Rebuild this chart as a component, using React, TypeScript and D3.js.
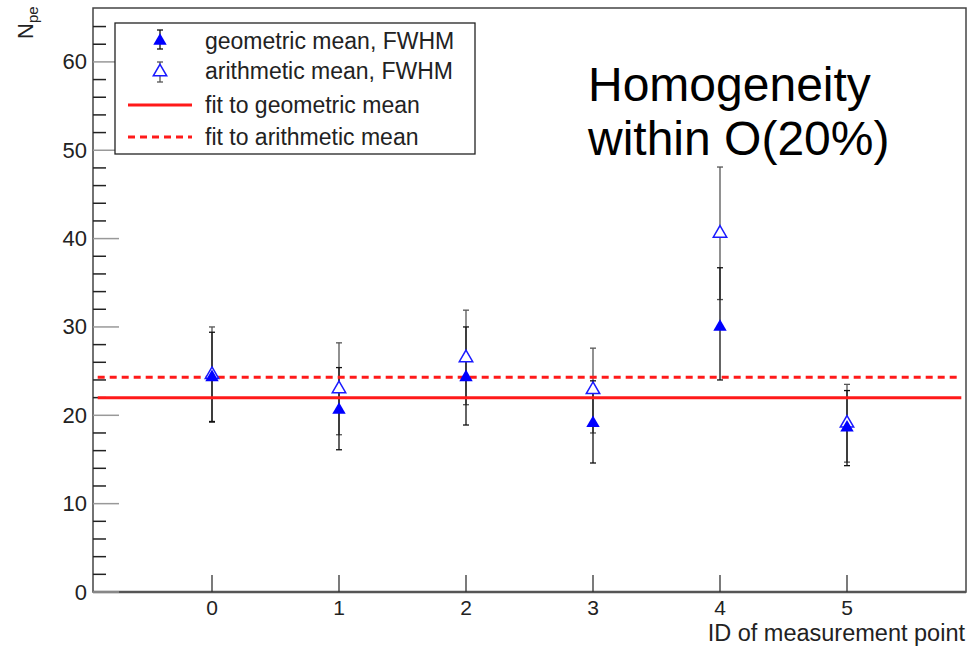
import React from 'react'
import * as d3 from 'd3'

// measurement points and the two estimates (value, lower / upper end of FWHM band)
const pointIds = [0, 1, 2, 3, 4, 5]

const geoMean = [24.3, 20.6, 24.3, 19.1, 30.0, 18.6]
const geoLow = [19.3, 16.1, 18.9, 14.6, 24.0, 14.3]
const geoHigh = [29.4, 25.4, 30.0, 23.9, 36.7, 22.8]

const ariMean = [24.6, 23.0, 26.5, 22.9, 40.6, 19.1]
const ariLow = [19.2, 17.8, 21.2, 18.0, 33.1, 14.7]
const ariHigh = [30.0, 28.2, 31.9, 27.6, 48.1, 23.5]

// constant fits
const geoFit = 22.0
const ariFit = 24.3
const fitRange = [-0.9, 5.9]

const yMajorTicks = [0, 10, 20, 30, 40, 50, 60]
const yMinorTicks = d3.range(0, 66, 2)
const xTickLabels = ['0', '1', '2', '3', '4', '5']

const legendItems = [
    'geometric mean, FWHM',
    'arithmetic mean, FWHM',
    'fit to geometric mean',
    'fit to arithmetic mean',
]

const frame = {left: 93, right: 966, top: 8, bottom: 592}
const font = '"Liberation Sans", Arial, sans-serif'

export default function App() {

    const x = d3.scaleLinear().domain([-0.937, 5.937]).range([frame.left, frame.right])
    const y = d3.scaleLinear().domain([0, 66.1]).range([frame.bottom, frame.top])

    const tri = d3.symbol(d3.symbolTriangle, 78)()

    const errorBar = (xi, lo, hi, color, key) => {
        const cx = x(xi)
        return (
            <g key={key} stroke={color} strokeWidth={1.3}>
                <line x1={cx} x2={cx} y1={y(lo)} y2={y(hi)} />
                <line x1={cx - 3} x2={cx + 3} y1={y(lo)} y2={y(lo)} />
                <line x1={cx - 3} x2={cx + 3} y1={y(hi)} y2={y(hi)} />
            </g>
        )
    }

    const legendY = [41, 71, 105, 137]

    return (
        <svg width={968} height={649} style={{position: 'absolute', left: 0, top: 0, background: '#fff'}}
             fontFamily={font}>

            {/* frame */}
            <rect x={frame.left} y={frame.top} width={frame.right - frame.left} height={frame.bottom - frame.top}
                  fill="none" stroke="#444" strokeWidth={1.5} />
            <line x1={frame.left} x2={frame.right} y1={frame.bottom} y2={frame.bottom} stroke="#555" strokeWidth={2.5} />

            {/* y ticks */}
            {yMinorTicks.map(t => (
                <line key={'m' + t} x1={frame.left} x2={frame.left + (t % 10 === 0 ? 26 : 13)}
                      y1={y(t)} y2={y(t)} stroke={t % 10 === 0 ? '#999' : '#222'} strokeWidth={1.5} />
            ))}
            {yMajorTicks.map(t => (
                <text key={'yl' + t} x={87} y={y(t) + 7.5} textAnchor="end" fontSize={22} fill="#222">{t}</text>
            ))}

            {/* x ticks */}
            {pointIds.map((d, i) => (
                <g key={'xt' + d}>
                    <line x1={x(d)} x2={x(d)} y1={frame.bottom} y2={frame.bottom - 17} stroke="#333" strokeWidth={1.3} />
                    <text x={x(d)} y={615} textAnchor="middle" fontSize={21} fill="#222">{xTickLabels[i]}</text>
                </g>
            ))}

            <text x={965} y={641} textAnchor="end" fontSize={23.5} fill="#222">ID of measurement point</text>
            <text transform="translate(33, 39) rotate(-90)" fontSize={22} fill="#222">
                N<tspan fontSize={15} dy={5}>pe</tspan>
            </text>

            {/* error bars */}
            {pointIds.map((d, i) => errorBar(d, ariLow[i], ariHigh[i], '#555', 'a' + d))}
            {pointIds.map((d, i) => errorBar(d, geoLow[i], geoHigh[i], '#111', 'g' + d))}

            {/* fits */}
            <line x1={x(fitRange[0])} x2={x(fitRange[1])} y1={y(geoFit)} y2={y(geoFit)} stroke="#ff1a1a" strokeWidth={3} />
            <line x1={x(fitRange[0])} x2={x(fitRange[1])} y1={y(ariFit)} y2={y(ariFit)} stroke="#ff1a1a" strokeWidth={3}
                  strokeDasharray="7,5" />

            {/* markers */}
            {pointIds.map((d, i) => (
                <path key={'am' + d} d={tri} transform={`translate(${x(d)},${y(ariMean[i])})`}
                      fill="#fff" stroke="#1a1aff" strokeWidth={1.5} />
            ))}
            {pointIds.map((d, i) => (
                <path key={'gm' + d} d={tri} transform={`translate(${x(d)},${y(geoMean[i])})`} fill="#0000ff" />
            ))}

            {/* legend */}
            <rect x={115} y={23} width={360} height={131} fill="#fff" stroke="#222" strokeWidth={1.3} />
            <g stroke="#111" strokeWidth={1.3}>
                <line x1={160} x2={160} y1={30} y2={49} />
                <line x1={157} x2={163} y1={30} y2={30} />
                <line x1={157} x2={163} y1={49} y2={49} />
            </g>
            <path d={tri} transform="translate(160,41)" fill="#0000ff" />
            <g stroke="#555" strokeWidth={1.3}>
                <line x1={160} x2={160} y1={62} y2={82} />
                <line x1={157} x2={163} y1={62} y2={62} />
                <line x1={157} x2={163} y1={82} y2={82} />
            </g>
            <path d={tri} transform="translate(160,72)" fill="#fff" stroke="#1a1aff" strokeWidth={1.5} />
            <line x1={128} x2={192} y1={105} y2={105} stroke="#ff1a1a" strokeWidth={3} />
            <line x1={128} x2={192} y1={137} y2={137} stroke="#ff1a1a" strokeWidth={3} strokeDasharray="7,5" />
            {legendItems.map((t, i) => (
                <text key={t} x={205} y={legendY[i] + 8} fontSize={23} fill="#222">{t}</text>
            ))}

            {/* annotation */}
            <text x={588} y={101} fontSize={48} fill="#000">Homogeneity</text>
            <text x={588} y={155} fontSize={48} fill="#000">within O(20%)</text>
        </svg>
    )
}
